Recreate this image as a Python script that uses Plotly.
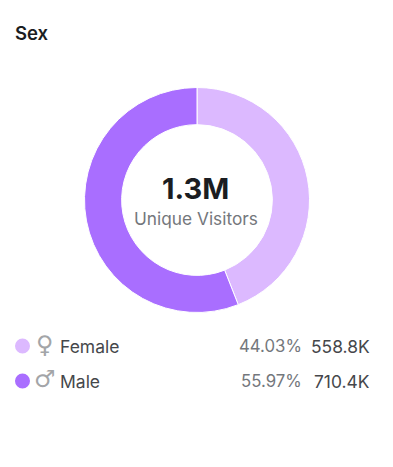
import plotly.graph_objects as go

W, H = 393, 467
categories = ["Female", "Male"]
visitors = [558.8, 710.4]
percent_labels = ["44.03%", "55.97%"]
value_labels = ["558.8K", "710.4K"]
symbols = ["♀", "♂"]
colors = ["#dcb9ff", "#a96eff"]
title = "Sex"
center_value = "1.3M"
center_label = "Unique Visitors"

cx, cy, r = 197, 200, 112.5
row_y = [346, 381]
FONT = "Inter"
def px(x): return x / W
def py(y): return 1 - y / H

fig = go.Figure(go.Pie(
    labels=categories, values=visitors, hole=0.67, sort=False,
    direction="clockwise", rotation=0, textinfo="none", showlegend=False,
    marker=dict(colors=colors, line=dict(color="white", width=1)),
    domain=dict(x=[px(cx - r), px(cx + r)], y=[py(cy + r), py(cy - r)]),
))

def text(x, y, s, size, color, anchor="left", weight=400, family=FONT):
    fig.add_annotation(x=px(x), y=py(y), xref="paper", yref="paper", text=s,
                       showarrow=False, xanchor=anchor, yanchor="middle",
                       borderpad=0, borderwidth=0,
                       font=dict(family=family, size=size, color=color, weight=weight))

text(15, 33, title, 18.5, "#1b1d22", weight=600)
text(cx - 1.5, 188.5, center_value, 29, "#1b1d22", "center", 700)
text(cx - 1.5, 218, center_label, 17.3, "#74777c", "center")

for i, name in enumerate(categories):
    y = row_y[i]
    fig.add_shape(type="circle", xref="paper", yref="paper",
                  x0=px(15), x1=px(30), y0=py(y + 7.5), y1=py(y - 7.5),
                  fillcolor=colors[i], line_width=0)
    text(45, y - (1 if i == 0 else 2), symbols[i], 24, "#a3a5a8", "center", family="DejaVu Sans")
    text(60, y, name, 17.5, "#45474b")
    text(302, y, percent_labels[i], 16.8, "#74777c", "right")
    text(370, y, value_labels[i], 17.4, "#45474b", "right")

fig.update_layout(width=W, height=H, margin=dict(l=0, r=0, t=0, b=0),
                  paper_bgcolor="white", plot_bgcolor="white")
fig.write_html("out.html", config={"displayModeBar": False},
               post_script="document.body.style.margin='0';")
